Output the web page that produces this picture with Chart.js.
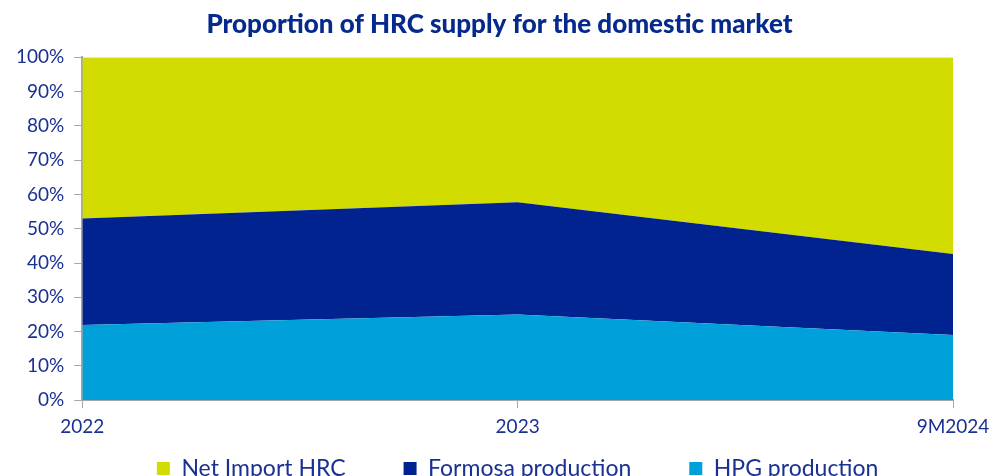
<!DOCTYPE html>
<html>
<head>
<meta charset="utf-8">
<script src="https://cdn.jsdelivr.net/npm/chart.js@4"></script>
<style>
  html, body { margin: 0; padding: 0; background: #fff; overflow: hidden; }
  #wrap { width: 993px; height: 490px; position: relative; }
</style>
</head>
<body>
<div id="wrap"><canvas id="myChart"></canvas></div>
<script>
var labels = ['2022', '2023', '9M2024'];
var hpgData = [21.9, 25.0, 19.0];
var formosaData = [31.1, 32.7, 23.6];
var netImportData = [47.0, 42.3, 57.4];
var yTicks = [0, 10, 20, 30, 40, 50, 60, 70, 80, 90, 100];

var textColor = '#1a3092';
var axisColor = '#a6a6a6';
// extra gap after each legend entry (en spaces)
var legendGaps = [4, 4, 0];

var ctx = document.getElementById('myChart').getContext('2d');

var myChart = new Chart(ctx, {
  type: 'line',
  data: {
    labels: labels,
    datasets: [
      {
        label: 'HPG production',
        data: hpgData,
        backgroundColor: '#00a1db',
        borderColor: '#00a1db',
        borderWidth: 0,
        pointRadius: 0,
        fill: 'origin'
      },
      {
        label: 'Formosa production',
        data: formosaData,
        backgroundColor: '#002390',
        borderColor: '#002390',
        borderWidth: 0,
        pointRadius: 0,
        fill: '-1'
      },
      {
        label: 'Net Import HRC',
        data: netImportData,
        backgroundColor: '#d3dc00',
        borderColor: '#d3dc00',
        borderWidth: 0,
        pointRadius: 0,
        fill: '-1'
      }
    ]
  },
  options: {
    responsive: true,
    maintainAspectRatio: false,
    animation: false,
    layout: { padding: { left: 6, right: 0, top: 6, bottom: 0 } },
    plugins: {
      title: {
        display: true,
        text: 'Proportion of HRC supply for the domestic market',
        color: '#05298c',
        font: { family: 'Lato', size: 26, weight: '900' },
        padding: { top: 3, bottom: 17 }
      },
      legend: {
        position: 'bottom',
        fullSize: false,
        reverse: true,
        labels: {
          color: textColor,
          font: { family: 'Lato', size: 23 },
          boxWidth: 13,
          boxHeight: 13,
          padding: 12,
          generateLabels: function(chart) {
            var items = Chart.defaults.plugins.legend.labels.generateLabels(chart);
            items.forEach(function(it) {
              it.text = it.text + '\u2002'.repeat(legendGaps[2 - it.datasetIndex]);
            });
            return items;
          }
        }
      },
      tooltip: { enabled: false }
    },
    scales: {
      x: {
        offset: false,
        afterFit: function(scale) {
          // let the last label run to the canvas edge like the original
          scale.paddingRight = 40;
        },
        grid: { drawOnChartArea: false, drawTicks: true, tickLength: 8, color: axisColor },
        border: { color: axisColor, width: 2 },
        ticks: { color: textColor, font: { family: 'Lato', size: 19 }, padding: 7, maxRotation: 0 }
      },
      y: {
        stacked: true,
        min: 0,
        max: 100,
        afterBuildTicks: function(axis) {
          axis.ticks = yTicks.map(function(v) { return { value: v }; });
        },
        grid: { drawOnChartArea: false, drawTicks: true, tickLength: 8, color: axisColor },
        border: { color: axisColor, width: 2 },
        ticks: {
          color: textColor,
          font: { family: 'Lato', size: 19 },
          padding: 10,
          callback: function(v) { return v + '%'; }
        }
      }
    }
  }
});
</script>
</body>
</html>
